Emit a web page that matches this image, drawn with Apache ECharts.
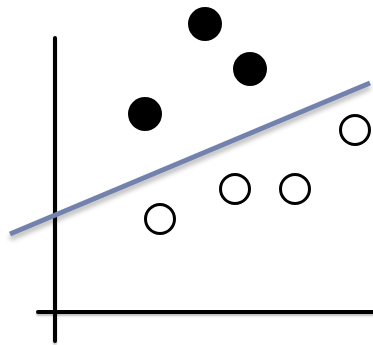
<!DOCTYPE html>
<html>
<head>
<meta charset="utf-8">
<script src="https://cdn.jsdelivr.net/npm/echarts@6/dist/echarts.min.js"></script>
<style>
  html, body { margin: 0; padding: 0; background: #fff; }
  #chart { width: 373px; height: 345px; }
</style>
</head>
<body>
<div id="chart"></div>
<script>
// two classes of points and the separating line
const filledPoints = [[9.0, 19.8], [15.0, 28.8], [19.5, 24.3]];
const openPoints = [[10.5, 9.3], [18.0, 12.3], [24.0, 12.3], [30.0, 18.2]];
const boundary = [[-4.5, 7.8], [31.5, 22.9]];

// visible axes span, and the full-canvas span with the same scale
const xRange = [-1.7, 31.8];
const yRange = [-2.9, 27.4];
const xFull = [-5.5, 31.8];
const yFull = [-3.3, 31.2];

const chart = echarts.init(document.getElementById('chart'), null, { renderer: 'canvas' });

const hidden = {
    type: 'value',
    axisLine: { show: false },
    axisTick: { show: false },
    axisLabel: { show: false },
    splitLine: { show: false }
};

const drawnAxis = Object.assign({}, hidden, {
    axisLine: {
        show: true,
        onZero: true,
        lineStyle: {
            color: '#000',
            width: 4,
            shadowColor: 'rgba(0,0,0,0.25)',
            shadowBlur: 2,
            shadowOffsetY: 2
        }
    }
});

let option = {
    animation: false,
    grid: [
        { left: 38, right: 0, top: 38, bottom: 4 },
        { left: 0, right: 0, top: 0, bottom: 0 }
    ],
    xAxis: [
        Object.assign({}, drawnAxis, { gridIndex: 0, min: xRange[0], max: xRange[1] }),
        Object.assign({}, hidden, { gridIndex: 1, min: xFull[0], max: xFull[1] })
    ],
    yAxis: [
        Object.assign({}, drawnAxis, { gridIndex: 0, min: yRange[0], max: yRange[1] }),
        Object.assign({}, hidden, { gridIndex: 1, min: yFull[0], max: yFull[1] })
    ],
    series: [
        {
            type: 'line',
            xAxisIndex: 1,
            yAxisIndex: 1,
            data: boundary,
            symbol: 'none',
            lineStyle: {
                color: '#7282ad',
                width: 5,
                shadowColor: 'rgba(0,0,0,0.3)',
                shadowBlur: 5,
                shadowOffsetY: 4
            },
            z: 1
        },
        {
            type: 'scatter',
            xAxisIndex: 1,
            yAxisIndex: 1,
            data: filledPoints,
            symbolSize: 34,
            itemStyle: { color: '#000', opacity: 1 },
            z: 3
        },
        {
            type: 'scatter',
            xAxisIndex: 1,
            yAxisIndex: 1,
            data: openPoints,
            symbolSize: 29,
            itemStyle: { color: '#fff', borderColor: '#000', borderWidth: 3, opacity: 1 },
            z: 3
        }
    ]
};

option && chart.setOption(option);
</script>
</body>
</html>
